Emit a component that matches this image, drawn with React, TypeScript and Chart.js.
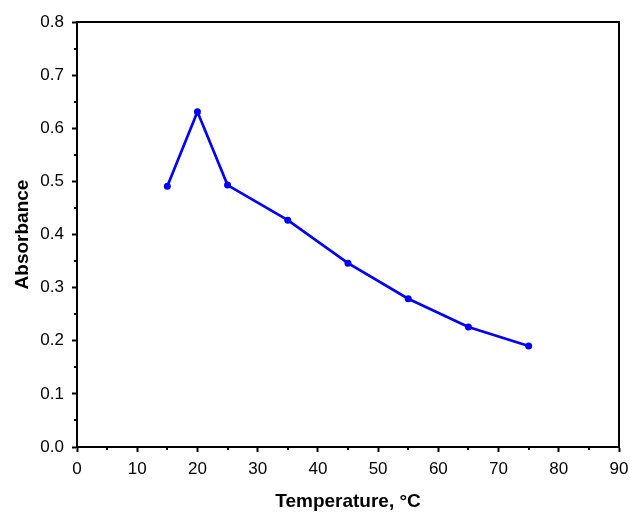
import React, { useEffect, useRef } from "react";
import { Chart, registerables } from "chart.js";

Chart.register(...registerables);

const temperatures = [15, 20, 25, 35, 45, 55, 65, 75];
const absorbance = [0.491, 0.631, 0.493, 0.427, 0.346, 0.279, 0.226, 0.19];
const xMinorStep = 5;
const yMinorStep = 0.05;

const frameAndMinor = {
  id: "frameAndMinor",
  afterDraw(chart: any) {
    const { ctx, chartArea } = chart;
    const xs = chart.scales.x;
    const ys = chart.scales.y;
    ctx.save();
    ctx.strokeStyle = "#000";
    ctx.lineWidth = 2;
    ctx.beginPath();
    ctx.moveTo(chartArea.left, chartArea.top);
    ctx.lineTo(chartArea.right, chartArea.top);
    ctx.lineTo(chartArea.right, chartArea.bottom);
    ctx.stroke();
    for (let v = xs.min + xMinorStep; v < xs.max; v += 2 * xMinorStep) {
      const px = Math.round(xs.getPixelForValue(v));
      ctx.beginPath();
      ctx.moveTo(px, chartArea.bottom);
      ctx.lineTo(px, chartArea.bottom + 3);
      ctx.stroke();
    }
    for (let v = ys.min + yMinorStep; v < ys.max; v += 2 * yMinorStep) {
      const py = Math.round(ys.getPixelForValue(v));
      ctx.beginPath();
      ctx.moveTo(chartArea.left, py);
      ctx.lineTo(chartArea.left - 3, py);
      ctx.stroke();
    }
    ctx.restore();
  },
};

export default function App() {
  const ref = useRef<HTMLCanvasElement>(null);
  useEffect(() => {
    document.body.style.margin = "0";
    const chart = new Chart(ref.current!, {
      type: "line",
      data: {
        datasets: [
          {
            data: temperatures.map((t, i) => ({ x: t, y: absorbance[i] })),
            borderColor: "#0000FF",
            backgroundColor: "#0000FF",
            borderWidth: 2.7,
            pointRadius: 3.5,
            pointBorderWidth: 0,
            tension: 0,
          },
        ],
      },
      options: {
        animation: false,
        responsive: false,
        maintainAspectRatio: false,
        layout: { padding: { top: 22, right: 11, left: 0, bottom: 0 } },
        plugins: { legend: { display: false }, tooltip: { enabled: false } },
        scales: {
          x: {
            type: "linear",
            min: 0,
            max: 90,
            ticks: {
              stepSize: 10,
              color: "#000",
              font: { family: "Liberation Sans", size: 17 },
              padding: 7,
              maxRotation: 0,
            },
            grid: {
              drawOnChartArea: false,
              drawTicks: true,
              tickLength: 5,
              tickWidth: 2,
              tickColor: "#000",
            },
            border: { display: true, color: "#000", width: 2 },
            title: {
              display: true,
              text: "Temperature, °C",
              color: "#000",
              font: { family: "Liberation Sans", size: 19, weight: "bold" },
              padding: { top: 4, bottom: 0 },
            },
            afterFit(scale: any) {
              scale.height = 66;
              scale.paddingLeft = 0;
              scale.paddingRight = 0;
            },
          },
          y: {
            type: "linear",
            min: 0,
            max: 0.8,
            ticks: {
              stepSize: 0.1,
              color: "#000",
              font: { family: "Liberation Sans", size: 17 },
              padding: 8,
              callback: (v: any) => Number(v).toFixed(1),
            },
            grid: {
              drawOnChartArea: false,
              drawTicks: true,
              tickLength: 5,
              tickWidth: 2,
              tickColor: "#000",
            },
            border: { display: true, color: "#000", width: 2 },
            title: {
              display: true,
              text: "Absorbance",
              color: "#000",
              font: { family: "Liberation Sans", size: 19, weight: "bold" },
              padding: { top: 11, bottom: 0 },
            },
            afterFit(scale: any) {
              scale.width = 77;
              scale.paddingTop = 0;
              scale.paddingBottom = 0;
            },
          },
        },
      },
      plugins: [frameAndMinor],
    });
    return () => chart.destroy();
  }, []);
  return (
    <div style={{ position: "absolute", left: 0, top: 0, width: 630, height: 513, background: "#fff" }}>
      <canvas ref={ref} width={630} height={513} />
    </div>
  );
}
